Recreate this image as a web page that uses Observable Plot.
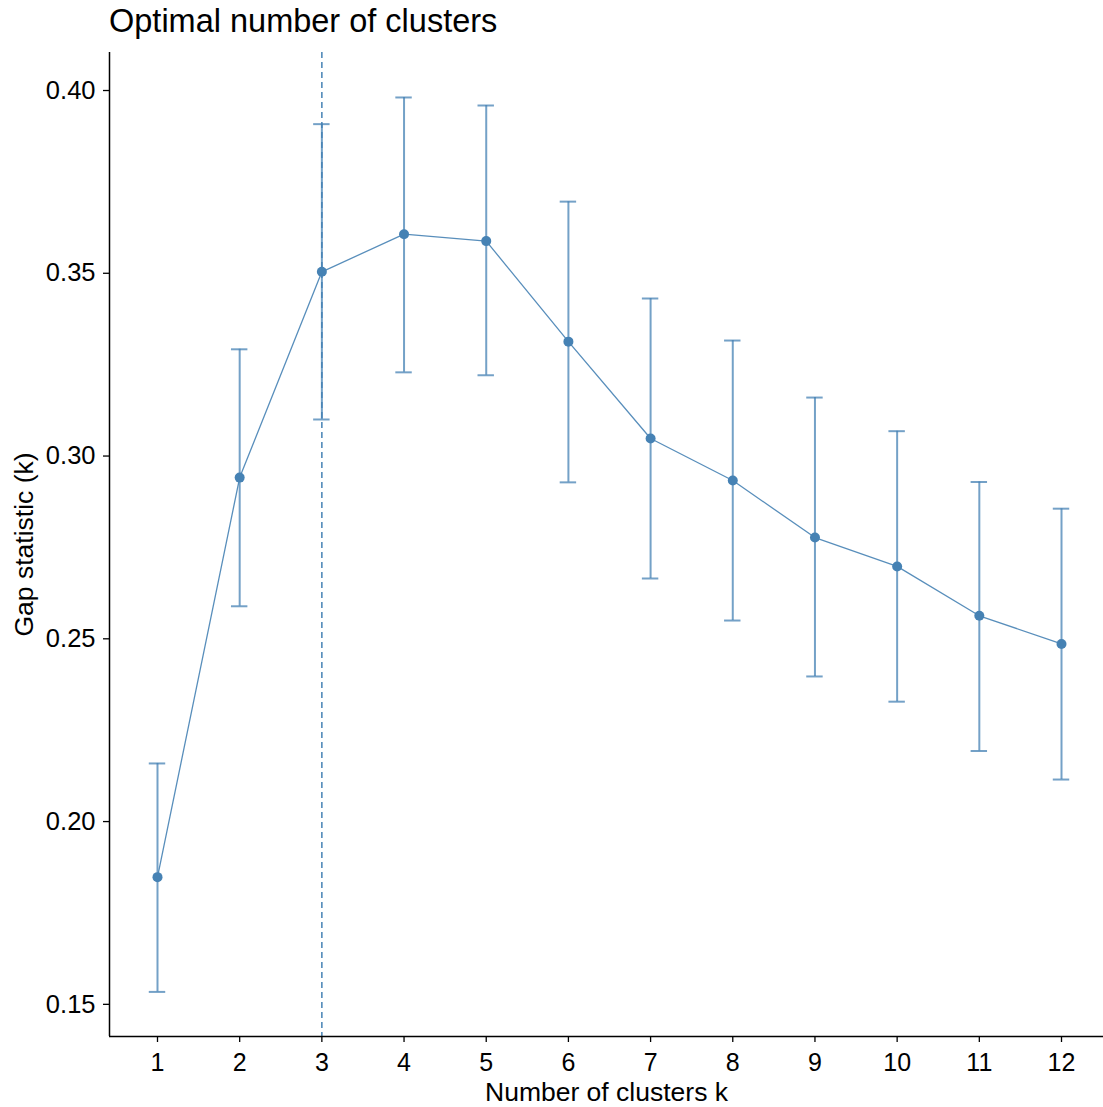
<!DOCTYPE html>
<html>
<head>
<meta charset="utf-8">
<script src="https://cdn.jsdelivr.net/npm/d3@7"></script>
<script src="https://cdn.jsdelivr.net/npm/@observablehq/plot@0.6"></script>
<style>
  html, body { margin: 0; padding: 0; background: #fff; }
  body { width: 1103px; height: 1107px; overflow: hidden; font-family: "Liberation Sans", Arial, sans-serif; }
  #title { height: 40px; line-height: 40px; font-size: 32.5px; padding-left: 109px; color: #000; box-sizing: border-box; padding-top: 1px; white-space: nowrap; }
</style>
</head>
<body>
<div id="title">Optimal number of clusters</div>
<div id="chart"></div>
<script>
const clusters = [1, 2, 3, 4, 5, 6, 7, 8, 9, 10, 11, 12];
const gap = [0.1848, 0.2941, 0.3504, 0.3607, 0.3588, 0.3313, 0.3048, 0.2933, 0.2777, 0.2698, 0.2563, 0.2486];
const gapUpper = [0.2159, 0.3292, 0.3908, 0.3981, 0.3959, 0.3696, 0.3431, 0.3316, 0.3160, 0.3068, 0.2929, 0.2856];
const gapLower = [0.1534, 0.2589, 0.3100, 0.3229, 0.3221, 0.2928, 0.2665, 0.2550, 0.2397, 0.2328, 0.2193, 0.2115];
const yTicks = [0.15, 0.20, 0.25, 0.30, 0.35, 0.40];
const optimalK = 3;
const xDomain = [0.416, 12.511];
const yDomain = [0.1412, 0.4104];

const data = clusters.map((k, i) => ({k, gap: gap[i], lo: gapLower[i], hi: gapUpper[i]}));
const capHalf = 0.1;
const col = "steelblue";

const chart = Plot.plot({
  width: 1103,
  height: 1067,
  marginLeft: 109,
  marginRight: 0,
  marginTop: 12,
  marginBottom: 71,
  style: {fontFamily: "'Liberation Sans', Arial, sans-serif", background: "#fff", color: "#000"},
  x: {domain: xDomain, ticks: clusters},
  y: {domain: yDomain, ticks: yTicks},
  marks: [
    Plot.ruleX([optimalK], {stroke: col, strokeWidth: 1.5, strokeDasharray: "6,4"}),
    Plot.ruleX(data, {x: "k", y1: "lo", y2: "hi", stroke: col, strokeWidth: 2, strokeOpacity: 0.75}),
    Plot.ruleY(data, {y: "hi", x1: d => d.k - capHalf, x2: d => d.k + capHalf, stroke: col, strokeWidth: 2, strokeOpacity: 0.75}),
    Plot.ruleY(data, {y: "lo", x1: d => d.k - capHalf, x2: d => d.k + capHalf, stroke: col, strokeWidth: 2, strokeOpacity: 0.75}),
    Plot.line(data, {x: "k", y: "gap", stroke: col, strokeWidth: 1.3, strokeOpacity: 0.9}),
    Plot.dot(data, {x: "k", y: "gap", r: 5, fill: col, stroke: "none"}),
    Plot.ruleX([xDomain[0]], {stroke: "#000", strokeWidth: 1.5}),
    Plot.ruleY([yDomain[0]], {stroke: "#000", strokeWidth: 1.5}),
    Plot.axisX({ticks: clusters, tickFormat: d => String(d), tickSize: 6, tickPadding: 11, fontSize: 25,
      label: "Number of clusters k", labelAnchor: "center", labelOffset: 64, labelArrow: "none", stroke: "#000", strokeWidth: 1.3}),
    Plot.axisY({ticks: yTicks, tickFormat: d => d.toFixed(2), tickSize: 6, tickPadding: 8, fontSize: 25.5,
      label: "Gap statistic (k)", labelAnchor: "center", labelOffset: 95, labelArrow: "none", stroke: "#000", strokeWidth: 1.3})
  ]
});
chart.querySelectorAll("g[aria-label='x-axis label'] text, g[aria-label='y-axis label'] text").forEach(t => t.setAttribute("font-size", "26.5"));
document.getElementById("chart").appendChild(chart);
</script>
</body>
</html>
